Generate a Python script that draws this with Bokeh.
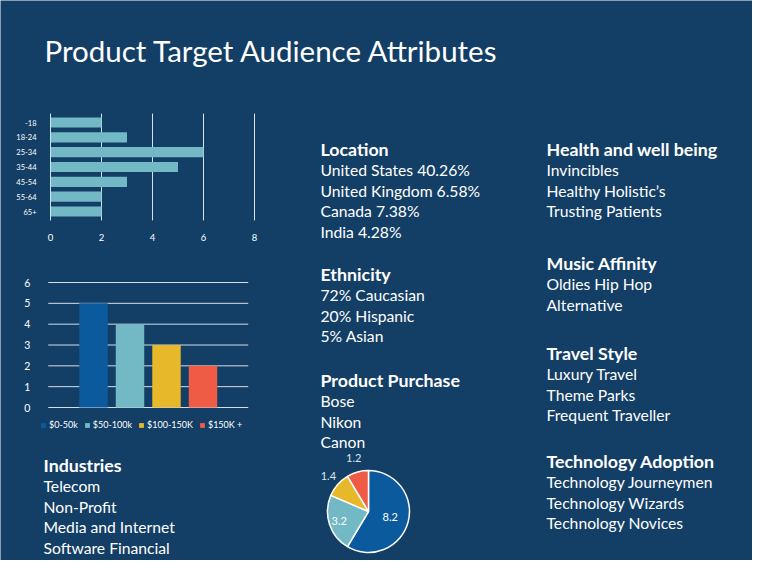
import numpy as np
from bokeh.plotting import figure
from bokeh.models import (Range1d, Legend, LegendItem, ColumnDataSource, FixedTicker,
                          LinearAxis)
from bokeh.embed import file_html
from bokeh.resources import INLINE
from bokeh.core.properties import value

# ---------------- data ----------------
title_text = "Product Target Audience Attributes"

age_groups = ["-18", "18-24", "25-34", "35-44", "45-54", "55-64", "65+"]
age_values = [2, 3, 6, 5, 3, 2, 2]
age_ticks = [0, 2, 4, 6, 8]

income_groups = ["$0-50k", "$50-100k", "$100-150K", "$150K +"]
income_values = [5, 4, 3, 2]
income_ticks = [0, 1, 2, 3, 4, 5, 6]

purchase_values = [8.2, 3.2, 1.4, 1.2]

location_head = "Location"
location_items = ["United States 40.26%", "United Kingdom 6.58%", "Canada 7.38%", "India 4.28%"]
ethnicity_head = "Ethnicity"
ethnicity_items = ["72% Caucasian", "20% Hispanic", "5% Asian"]
purchase_head = "Product Purchase"
purchase_items = ["Bose", "Nikon", "Canon"]
health_head = "Health and well being"
health_items = ["Invincibles", "Healthy Holistic\u2019s", "Trusting Patients"]
music_head = "Music Affinity"
music_items = ["Oldies Hip Hop", "Alternative"]
travel_head = "Travel Style"
travel_items = ["Luxury Travel", "Theme Parks", "Frequent Traveller"]
tech_head = "Technology Adoption"
tech_items = ["Technology Journeymen", "Technology Wizards", "Technology Novices"]
industry_head = "Industries"
industry_items = ["Telecom", "Non-Profit", "Media and Internet", "Software Financial"]

# ---------------- style ----------------
W, H = 752, 560
BG = "#133e65"
FONT = "Lato"
BLUE = "#0b5a9e"
TEAL = "#72b8c5"
YELLOW = "#e6b82a"
RED = "#ef5b45"
PALETTE = [BLUE, TEAL, YELLOW, RED]
HEAD_SIZE = "17.8px"
ITEM_SIZE = "15.7px"


def xr(v0, p0, v1, p1):
    """x range mapping value v0 -> pixel p0, v1 -> pixel p1 over the frame."""
    s = (p1 - p0) / (v1 - v0)
    return Range1d(start=v0 - p0 / s, end=v0 + (W - p0) / s)


def yr(v0, p0, v1, p1):
    """y range mapping value v0 -> pixel p0 (from top), v1 -> pixel p1."""
    s = (p1 - p0) / (v1 - v0)
    return Range1d(start=v0 + (H - p0) / s, end=v0 - p0 / s)


p = figure(width=W, height=H, x_range=Range1d(0, W), y_range=Range1d(H, 0),
           output_backend="svg", toolbar_location=None, min_border=0)
p.axis.visible = False
p.grid.visible = False
p.background_fill_color = BG
p.border_fill_color = BG
p.outline_line_color = None


def section(x, y_head, head, items):
    p.text(x=[x], y=[y_head], text=[head], text_font=value(FONT),
           text_font_style="bold", text_font_size=HEAD_SIZE,
           text_color="white", text_baseline="middle")
    ys = [y_head + 21.5 + 20.6 * i for i in range(len(items))]
    p.text(x=[x] * len(items), y=ys, text=items, text_font=value(FONT),
           text_font_size=ITEM_SIZE, text_color="white", text_baseline="middle")


# ---------------- title ----------------
p.text(x=[44], y=[50], text=[title_text], text_font=value(FONT),
       text_font_size="29.5px", text_color="white", text_baseline="middle")

# ---------------- age bar chart ----------------
age_idx = list(range(len(age_groups)))
p.extra_x_ranges["age_x"] = xr(0, 50, 8, 254)
p.extra_y_ranges["age_y"] = yr(0, 122, 6, 211)
band = (-0.6, len(age_groups) - 0.4)
p.segment(x0=age_ticks[1:], x1=age_ticks[1:], y0=band[0], y1=band[1],
          line_color="white", line_alpha=0.85, line_width=1,
          x_range_name="age_x", y_range_name="age_y")
p.hbar(y=age_idx, left=0, right=age_values, height=0.68, fill_color=TEAL, line_color=None,
       x_range_name="age_x", y_range_name="age_y")
ax = LinearAxis(x_range_name="age_x", y_range_name="age_y", fixed_location=band[1],
                ticker=FixedTicker(ticks=age_ticks), axis_line_color=None,
                major_tick_line_color=None, minor_tick_line_color=None,
                major_label_standoff=8, major_label_text_color="white",
                major_label_text_font=FONT, major_label_text_font_size="9.5px")
p.add_layout(ax, "below")
ay = LinearAxis(x_range_name="age_x", y_range_name="age_y", fixed_location=0,
                bounds=band, ticker=FixedTicker(ticks=age_idx),
                major_label_overrides={i: g for i, g in zip(age_idx, age_groups)},
                axis_line_color="#cfe3ea", axis_line_width=1,
                major_tick_line_color=None, minor_tick_line_color=None,
                major_label_standoff=8, major_label_text_color="white",
                major_label_text_font=FONT, major_label_text_font_size="7.5px")
p.add_layout(ay, "left")

# ---------------- income column chart ----------------
inc_idx = list(range(len(income_groups)))
p.extra_x_ranges["inc_x"] = xr(0, 93, 3, 202.5)
p.extra_y_ranges["inc_y"] = yr(0, 407, 6, 282)
mid = (len(income_groups) - 1) / 2
half = 2.74
p.segment(x0=mid - half, x1=mid + half, y0=income_ticks, y1=income_ticks,
          line_color="#d5dde6", line_width=1,
          x_range_name="inc_x", y_range_name="inc_y")
src = ColumnDataSource(dict(x=inc_idx, name=income_groups, value=income_values, color=PALETTE))
rv = p.vbar(x="x", top="value", bottom=0, width=0.78, fill_color="color", line_color=None,
            source=src, x_range_name="inc_x", y_range_name="inc_y")
ay2 = LinearAxis(x_range_name="inc_x", y_range_name="inc_y", fixed_location=mid - half,
                 ticker=FixedTicker(ticks=income_ticks), axis_line_color=None,
                 major_tick_line_color=None, minor_tick_line_color=None,
                 major_label_standoff=12, major_label_text_color="white",
                 major_label_text_font=FONT, major_label_text_font_size="10.5px")
p.add_layout(ay2, "left")
leg = Legend(items=[LegendItem(label=dict(field="name"), renderers=[rv])],
             orientation="horizontal", location=(40, H - 430),
             background_fill_alpha=0, border_line_color=None,
             label_text_color="white", label_text_font=FONT, label_text_font_size="9px",
             glyph_width=6, glyph_height=6, label_height=11, label_standoff=3,
             spacing=6, padding=0, margin=0)
p.add_layout(leg, "center")

# ---------------- text blocks ----------------
section(43, 464, industry_head, industry_items)
section(320, 148, location_head, location_items)
section(320, 273, ethnicity_head, ethnicity_items)
section(320, 379, purchase_head, purchase_items)
section(546, 148, health_head, health_items)
section(546, 262, music_head, music_items)
section(546, 352, travel_head, travel_items)
section(546, 460, tech_head, tech_items)

# ---------------- pie ----------------
vals = np.array(purchase_values)
frac = vals / vals.sum()
cum = np.concatenate([[0], np.cumsum(frac)])
starts = np.pi / 2 - 2 * np.pi * cum[:-1]
ends = np.pi / 2 - 2 * np.pi * cum[1:]
cx, cy, R = 368, 511, 41
p.wedge(x=cx, y=cy, radius=R, start_angle=starts, end_angle=ends, direction="clock",
        fill_color=PALETTE, line_color="white", line_width=1.5)
mids = (starts + ends) / 2
lab_r = np.array([0.55, 0.75, 1.3, 1.35]) * R
lx = cx + lab_r * np.cos(mids)
ly = cy - lab_r * np.sin(mids)
p.text(x=lx, y=ly, text=[f"{v:g}" for v in purchase_values], text_font=value(FONT),
       text_font_size="11px", text_color=["white", "white", "#dfe6ee", "#dfe6ee"],
       text_align="center", text_baseline="middle")

open("out.html", "w").write(file_html(p, INLINE))
